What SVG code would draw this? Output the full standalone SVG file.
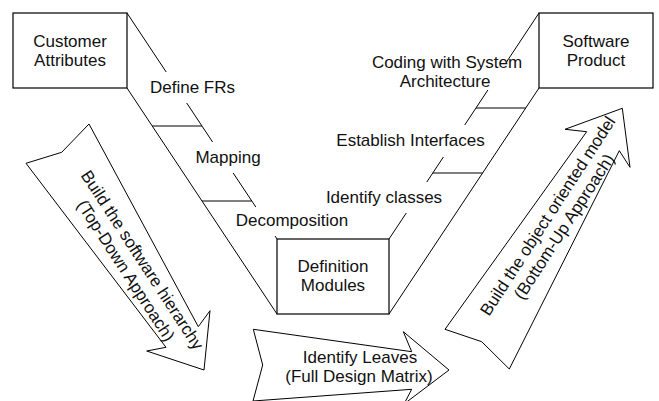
<svg xmlns="http://www.w3.org/2000/svg" width="659" height="401" viewBox="0 0 659 401">
<style>
.ln{stroke:#000;stroke-width:1;fill:none}
.box{stroke:#000;stroke-width:1.2;fill:#fff}
.arr{stroke:#000;stroke-width:1;fill:#fff;stroke-linejoin:miter}
text{font-family:"Liberation Sans",Arial,sans-serif;font-size:17px;fill:#111}
.c{text-anchor:middle}
</style>
<rect width="659" height="401" fill="#fff"/>
<g id="connectors">
<path class="ln" d="M127,13 L166.2,72 M186.7,103 L212.6,142 M233.2,173 L255.8,207 M275,236 L277,239"/>
<path class="ln" d="M127,88 L277,314"/>
<path class="ln" d="M152.2,126 L202,126 M202,201 L251.8,201"/>
<path class="ln" d="M539,13 L506.5,62 M487.9,90 L464.7,125 M443.4,157 L426.8,182 M406.3,213 L389,239"/>
<path class="ln" d="M539,88 L389,314"/>
<path class="ln" d="M476,108 L525.7,108 M432.8,173 L482.6,173"/>
</g>
<g id="customer-attributes">
<rect class="box" x="13" y="13" width="114" height="75"/>
<text class="c" x="70" y="47">Customer</text>
<text class="c" x="70" y="66">Attributes</text>
</g>
<g id="software-product">
<rect class="box" x="539" y="13" width="114" height="75"/>
<text class="c" x="596" y="47">Software</text>
<text class="c" x="596" y="66">Product</text>
</g>
<g id="definition-modules">
<rect class="box" x="277" y="239" width="112" height="75"/>
<text class="c" x="333" y="272">Definition</text>
<text class="c" x="333" y="291">Modules</text>
</g>
<g id="labels">
<text class="c" x="192.5" y="92.5">Define FRs</text>
<text class="c" x="228" y="163">Mapping</text>
<text class="c" x="292" y="226">Decomposition</text>
<text class="c" x="384" y="203">Identify classes</text>
<text class="c" x="410.5" y="146">Establish Interfaces</text>
<text class="c" x="447" y="68">Coding with System</text>
<text class="c" x="445" y="87">Architecture</text>
</g>
<g id="top-down-arrow">
<polygon class="arr" points="26,163.3 61.7,152.3 89,124 198.3,326.7 210,310.7 204,370 146.7,351 166,347.3"/>
<g transform="translate(134.5,265) rotate(57)">
<text class="c" x="0" y="-3.5">Build the software hierarchy</text>
<text class="c" x="0" y="16">(Top-Down Approach)</text>
</g>
</g>
<g id="identify-leaves-arrow">
<polygon class="arr" points="253.3,329.3 411.7,351.7 403.3,331.7 449,370 404,404 411.7,389.3 253,401 262.7,365"/>
<text class="c" x="360" y="362.5">Identify Leaves</text>
<text class="c" x="359" y="382">(Full Design Matrix)</text>
</g>
<g id="bottom-up-arrow">
<polygon class="arr" points="445,329.3 586.7,131.7 565,129.3 622.3,108.3 630,167.3 619.3,150.7 509.3,369 481.7,341.7"/>
<g transform="translate(555.5,221) rotate(-57)">
<text class="c" x="0" y="-3.5">Build the object oriented model</text>
<text class="c" x="0" y="16">(Bottom-Up Approach)</text>
</g>
</g>
</svg>
